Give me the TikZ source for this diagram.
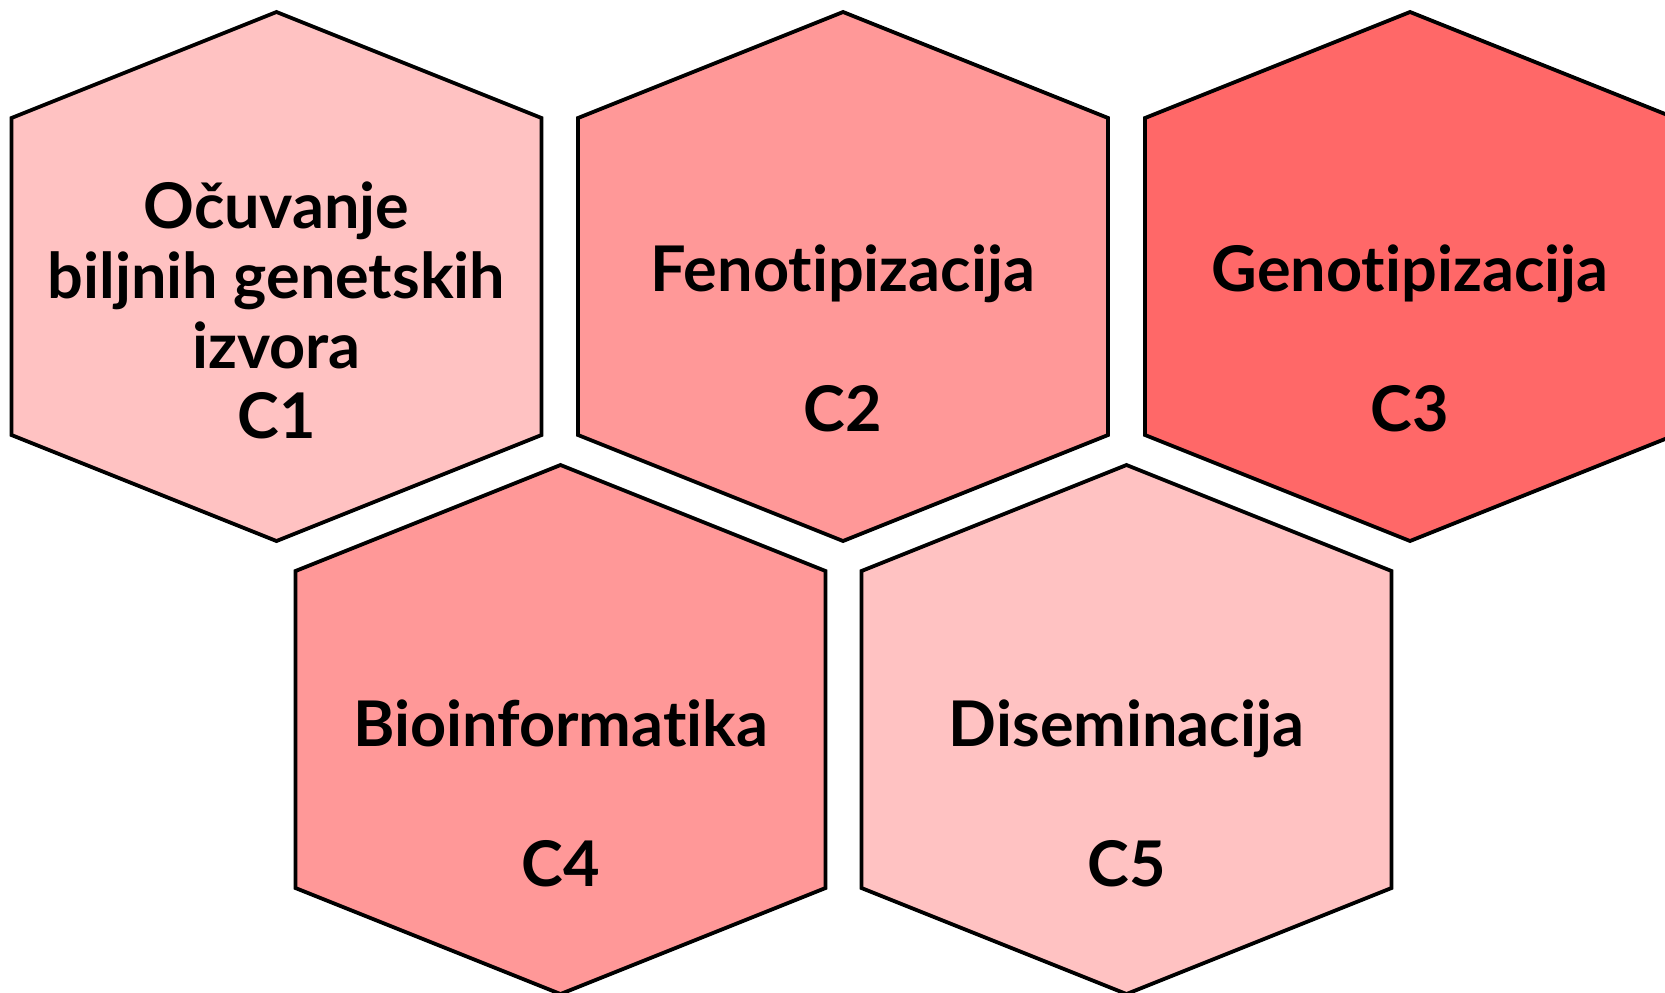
\documentclass[tikz,border=0pt]{standalone}
\usepackage{fontspec}
\setmainfont{Lato}[Ligatures={NoCommon}]
\definecolor{pinkA}{RGB}{255,194,194}
\definecolor{pinkB}{RGB}{255,152,152}
\definecolor{pinkC}{RGB}{255,104,104}
\tikzset{
  hexline/.style={draw=black, line width=3.8pt, line join=miter},
  hextext/.style={inner sep=0pt, anchor=base, font=\fontsize{63}{70}\selectfont\bfseries}
}
\newcommand{\hexagon}[4]{%
  \draw[hexline, fill=#4] (#2,#3-264.5) -- (#2+265,#3-158.5) -- (#2+265,#3+158.5)
    -- (#2,#3+264.5) -- (#2-265,#3+158.5) -- (#2-265,#3-158.5) -- cycle;
}
\begin{document}
\begin{tikzpicture}[x=1pt,y=-1pt]
\useasboundingbox (0,0) rectangle (1665,993);
\clip (0,0) rectangle (1665,993);
\hexagon{h1}{276.5}{276.5}{pinkA}
\hexagon{h2}{843}{276.5}{pinkB}
\hexagon{h3}{1410}{276.5}{pinkC}
\hexagon{h4}{560.5}{729.5}{pinkB}
\hexagon{h5}{1126.5}{729.5}{pinkA}
\node[hextext] (t1) at (276.5,228.6) {\begin{tabular}[t]{@{}c@{}}Očuvanje\\biljnih genetskih\\izvora\\C1\end{tabular}};
\node[hextext] (t2) at (843,291) {\begin{tabular}[t]{@{}c@{}}Fenotipizacija\\ \\C2\end{tabular}};
\node[hextext] (t3) at (1410,291) {\begin{tabular}[t]{@{}c@{}}Genotipizacija\\ \\C3\end{tabular}};
\node[hextext] (t4) at (560.5,746) {\begin{tabular}[t]{@{}c@{}}Bioinformatika\\ \\C4\end{tabular}};
\node[hextext] (t5) at (1126.5,746) {\begin{tabular}[t]{@{}c@{}}Diseminacija\\ \\C5\end{tabular}};
\end{tikzpicture}
\end{document}
